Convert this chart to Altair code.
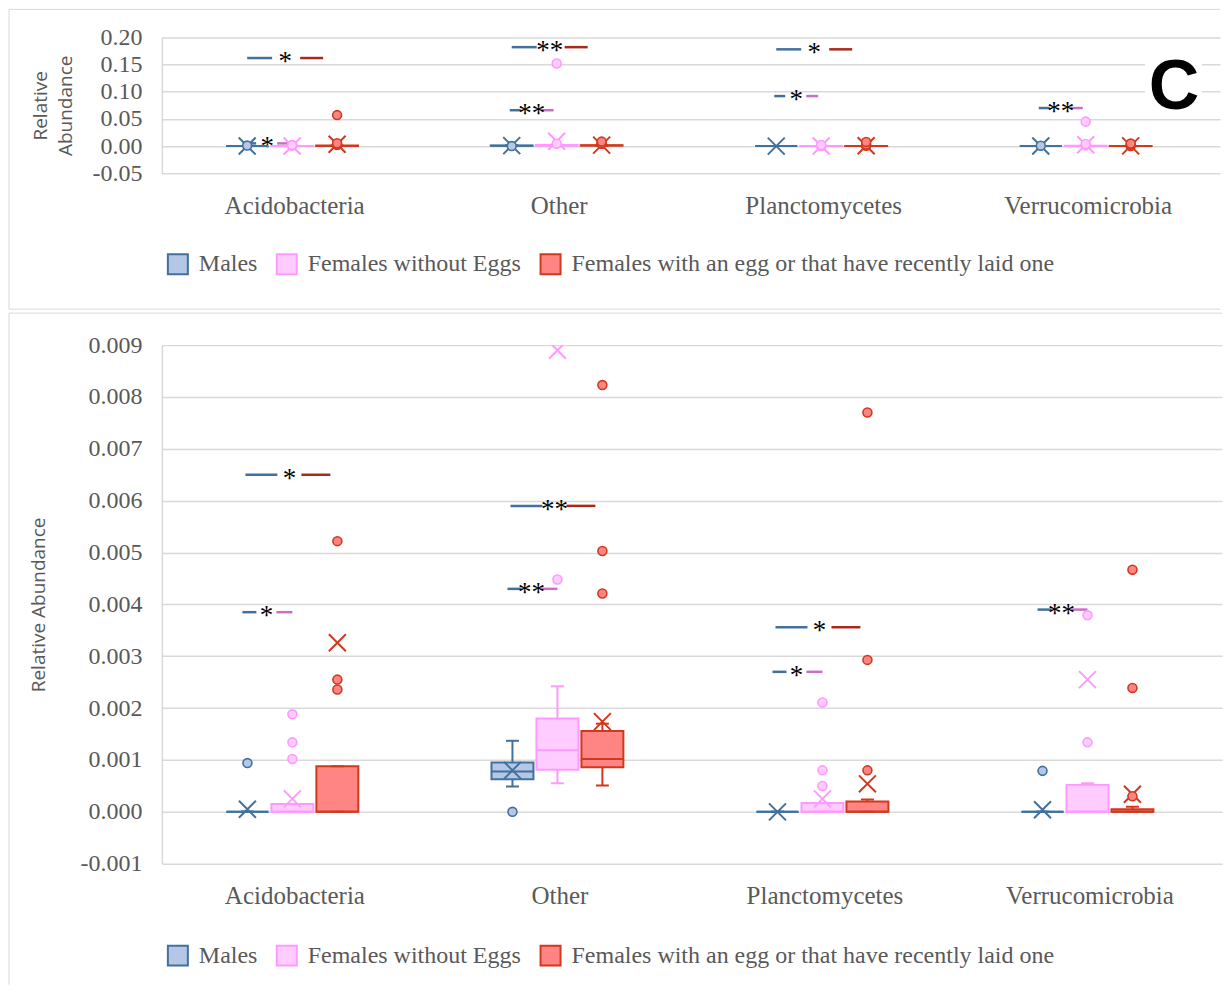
import json
import altair as alt
import pandas as pd

# ---------------------------------------------------------------- data
categories = ["Acidobacteria", "Other", "Planctomycetes", "Verrucomicrobia"]
groups = ["Males", "Females without Eggs",
          "Females with an egg or that have recently laid one"]

# box statistics, one value per category (order of `categories`)
males_q1 = [0.0, 0.00063, 0.0, 0.0]
males_median = [0.0, 0.00078, 0.0, 0.0]
males_q3 = [0.0, 0.00095, 0.0, 0.0]
males_low = [0.0, 0.00049, 0.0, 0.0]
males_high = [0.0, 0.00137, 0.0, 0.0]
males_mean = [0.00005, 0.00080, 0.0, 0.00004]
males_outliers = [[0.00094], [0.0], [], [0.00079]]

noegg_q1 = [0.0, 0.00081, 0.0, 0.0]
noegg_median = [0.0, 0.00119, 0.0, 0.0]
noegg_q3 = [0.00015, 0.00180, 0.00017, 0.00052]
noegg_low = [0.0, 0.00055, 0.0, 0.0]
noegg_high = [0.00015, 0.00242, 0.00017, 0.00055]
noegg_mean = [0.00025, 0.00890, 0.00025, 0.00255]
noegg_outliers = [[0.00102, 0.00134, 0.00188], [0.00448, 0.152],
                  [0.00050, 0.00080, 0.00211], [0.00134, 0.00379, 0.045]]

egg_q1 = [0.0, 0.00086, 0.0, 0.0]
egg_median = [0.0, 0.00102, 0.0, 0.0]
egg_q3 = [0.00088, 0.00156, 0.00020, 0.00005]
egg_low = [0.0, 0.00051, 0.0, 0.0]
egg_high = [0.00088, 0.00170, 0.00024, 0.00010]
egg_mean = [0.00326, 0.00174, 0.00054, 0.00034]
egg_outliers = [[0.00236, 0.00255, 0.00522, 0.057], [0.00421, 0.00503, 0.00823],
                [0.00080, 0.00293, 0.00770], [0.00030, 0.00239, 0.00467]]

# significance marks (ME = males vs egg-laying females, MF = males vs females without eggs)
sig_category = [0, 0, 1, 1, 2, 2, 3]
sig_pair = ["ME", "MF", "ME", "MF", "ME", "MF", "MF"]
sig_label = ["*", "*", "**", "**", "*", "*", "**"]
sig_top_value = [0.162, 0.005, 0.182, 0.066, 0.178, 0.092, 0.070]
sig_bottom_value = [0.0065, 0.00385, 0.0059, 0.0043, 0.00356, 0.0027, 0.0039]

top_ticks = [-0.05, 0.0, 0.05, 0.10, 0.15, 0.20]
bottom_ticks = [-0.001, 0.0, 0.001, 0.002, 0.003, 0.004, 0.005, 0.006, 0.007, 0.008, 0.009]

# ---------------------------------------------------------------- styles
SERIF = "Liberation Serif"
SANS = "Open Sans"
GRAY = "#595959"
GRID = "#D9D9D9"
FILLS = ["#B4C7E7", "#FFCCFF", "#FF8585"]
STROKES = ["#41719C", "#FF99FF", "#D0391D"]
SIG_LEFT = "#41719C"
SIG_ME = "#A52A1A"
SIG_MF = "#C86FC8"
XPATH = "M-1,-1L1,1M-1,1L1,-1"


def build_tables():
    stats = [
        (males_q1, males_median, males_q3, males_low, males_high, males_mean, males_outliers),
        (noegg_q1, noegg_median, noegg_q3, noegg_low, noegg_high, noegg_mean, noegg_outliers),
        (egg_q1, egg_median, egg_q3, egg_low, egg_high, egg_mean, egg_outliers),
    ]
    box_rows, out_rows = [], []
    for gi, (g, st) in enumerate(zip(groups, stats)):
        q1, md, q3, lo, hi, mn, outs = st
        for ci, cat in enumerate(categories):
            box_rows.append({"category": cat, "ci": ci, "group": g, "gi": gi,
                             "q1": q1[ci], "med": md[ci], "q3": q3[ci],
                             "lo": lo[ci], "hi": hi[ci], "mean": mn[ci]})
            for v in outs[ci]:
                out_rows.append({"category": cat, "ci": ci, "group": g, "gi": gi, "value": v})
    return pd.DataFrame(box_rows), pd.DataFrame(out_rows)


box_df, out_df = build_tables()


def sig_table(values):
    return pd.DataFrame({"ci": sig_category, "pair": sig_pair,
                         "label": sig_label, "value": values})


one = pd.DataFrame({"k": [0]})


def panel(width, height, ydomain, yticks, fmt, ytitle, title_pad, sigs, geo,
          legend_xy, frame, extras):
    ppu = width / len(categories)
    xscale = alt.Scale(domain=[0, len(categories)], nice=False, zero=False)
    yscale = alt.Scale(domain=ydomain, nice=False, zero=False)
    xaxis = alt.Axis(title=None, values=[i + 0.5 for i in range(len(categories))],
                     labelExpr=f"{json.dumps(categories)}[floor(datum.value)]",
                     grid=False, domain=False, ticks=False, labelFont=SERIF,
                     labelFontSize=25, labelColor=GRAY, labelPadding=20)
    yaxis = alt.Axis(title=ytitle, values=yticks,
                     labelExpr=f"(datum.value < -1e-9 ? '-' : '') + format(abs(datum.value), '{fmt}')",
                     grid=True, gridColor=GRID, gridWidth=1.5, domain=True,
                     domainColor=GRID, domainWidth=1.5, ticks=False, labelPadding=20,
                     labelFont=SERIF, labelFontSize=24, labelColor=GRAY,
                     titleFont=SANS, titleFontSize=19, titleFontWeight="normal",
                     titleColor=GRAY, titlePadding=title_pad, titleLineHeight=25)

    def X(f):
        return alt.X(f"{f}:Q", scale=xscale, axis=xaxis)

    def Y(f):
        return alt.Y(f"{f}:Q", scale=yscale, axis=yaxis)

    leg = alt.Legend(title=None, orient="none", legendX=legend_xy[0], legendY=legend_xy[1],
                     direction="horizontal", symbolType="square", symbolSize=400,
                     symbolStrokeWidth=2, labelFont=SERIF, labelFontSize=24,
                     labelColor=GRAY, labelOffset=9, columnPadding=15, labelLimit=900)
    fill_scale = alt.Scale(domain=groups, range=FILLS)
    stroke_scale = alt.Scale(domain=groups, range=STROKES)
    fill_leg = alt.Fill("group:N", scale=fill_scale, legend=leg)
    stroke_leg = alt.Stroke("group:N", scale=stroke_scale, legend=leg)
    fill = alt.Fill("group:N", scale=fill_scale, legend=None)
    stroke = alt.Stroke("group:N", scale=stroke_scale, legend=None)

    pos = dict(
        xc=f"datum.ci + 0.5 + ((datum.gi - 1) * 45 - 2) / {ppu}",
        xl=f"datum.xc - 21 / {ppu}",
        xr=f"datum.xc + 21 / {ppu}",
        cl=f"datum.xc - 6.5 / {ppu}",
        cr=f"datum.xc + 6.5 / {ppu}",
    )
    boxes = alt.Chart(box_df).transform_calculate(**pos)
    outs = alt.Chart(out_df).transform_calculate(xc=pos["xc"])

    def pick(i):
        return f"(datum.pair == 'ME' ? {geo['ME'][i]} : {geo['MF'][i]})"

    sig = alt.Chart(sigs).transform_calculate(
        sx=f"datum.ci + 0.5 + {pick(0)} / {ppu}",
        l1=f"datum.ci + 0.5 + {pick(1)} / {ppu}",
        l2=f"datum.ci + 0.5 + {pick(2)} / {ppu}",
        r1=f"datum.ci + 0.5 + {pick(3)} / {ppu}",
        r2=f"datum.ci + 0.5 + {pick(4)} / {ppu}",
    )

    fx0, fx1, fy0, fy1, bottom_line = frame
    layers = [
        alt.Chart(one).mark_rule(color=GRID, strokeWidth=1).encode(
            x=alt.value(fx0), y=alt.value(fy0), y2=alt.value(fy1)),
        alt.Chart(one).mark_rule(color=GRID, strokeWidth=1).encode(
            x=alt.value(fx0), x2=alt.value(fx1), y=alt.value(fy0)),
    ]
    if bottom_line:
        layers.append(alt.Chart(one).mark_rule(color=GRID, strokeWidth=1).encode(
            x=alt.value(fx0), x2=alt.value(fx1), y=alt.value(fy1)))
    layers += extras
    layers += [
        sig.mark_rule(color=SIG_LEFT, strokeWidth=2.5).encode(
            x=X("l1"), x2=alt.X2("l2"), y=Y("value")),
        sig.transform_filter("datum.pair == 'ME'").mark_rule(color=SIG_ME, strokeWidth=2.5).encode(
            x=X("r1"), x2=alt.X2("r2"), y=Y("value")),
        sig.transform_filter("datum.pair == 'MF'").mark_rule(color=SIG_MF, strokeWidth=2.5).encode(
            x=X("r1"), x2=alt.X2("r2"), y=Y("value")),
        sig.mark_text(font=SERIF, fontSize=27, color="black", baseline="alphabetic",
                      align="center", dy=12).encode(x=X("sx"), y=Y("value"), text="label:N"),
        boxes.mark_rect(strokeWidth=2, opacity=1, clip=True).encode(
            x=X("xl"), x2=alt.X2("xr"), y=Y("q1"), y2=alt.Y2("q3"),
            fill=fill_leg, stroke=stroke_leg),
        boxes.mark_rule(strokeWidth=2, clip=True).encode(
            x=X("xc"), y=Y("q3"), y2=alt.Y2("hi"), stroke=stroke),
        boxes.mark_rule(strokeWidth=2, clip=True).encode(
            x=X("xc"), y=Y("lo"), y2=alt.Y2("q1"), stroke=stroke),
        boxes.mark_rule(strokeWidth=2, clip=True).encode(
            x=X("cl"), x2=alt.X2("cr"), y=Y("hi"), stroke=stroke),
        boxes.mark_rule(strokeWidth=2, clip=True).encode(
            x=X("cl"), x2=alt.X2("cr"), y=Y("lo"), stroke=stroke),
        boxes.mark_rule(strokeWidth=2, clip=True).encode(
            x=X("xl"), x2=alt.X2("xr"), y=Y("med"), stroke=stroke),
        boxes.mark_point(shape=XPATH, size=289, filled=False, strokeWidth=2,
                         opacity=1, clip=True).encode(
            x=X("xc"), y=Y("mean"), stroke=stroke),
        outs.mark_point(shape="circle", size=80, filled=True, strokeWidth=1.6,
                        opacity=1, clip=True).encode(
            x=X("xc"), y=Y("value"), fill=fill, stroke=stroke),
    ]
    return alt.layer(*layers).properties(width=width, height=height)


# geometry of significance marks in px relative to category centre:
# (star, left-line start, left-line end, right-line start, right-line end)
GEO_TOP = {"ME": (-9, -47, -22, 6, 29), "MF": (-27, -49, -38, -17, -5)}
GEO_BOTTOM = {"ME": (-5, -49, -17, 7, 36), "MF": (-28, -52, -38, -18, -2)}

TOP_W, BOTTOM_W = 1059, 1061
FRAME_LEFT = -153

c_label = [
    alt.Chart(one).mark_rect(color="white").encode(
        x=alt.value(984), x2=alt.value(1041), y=alt.value(10), y2=alt.value(72)),
    alt.Chart(one).mark_text(text="C", font="Liberation Sans", fontSize=70,
                             fontWeight="bold", color="black", baseline="alphabetic",
                             align="center").encode(x=alt.value(1013), y=alt.value(72)),
]

top = panel(TOP_W, 136, [-0.05, 0.20], top_ticks, ".2f", ["Relative", "Abundance"], 16,
            sig_table(sig_top_value), GEO_TOP, (4, 215),
            (FRAME_LEFT, TOP_W, -28, 272, True), c_label)

bottom = panel(BOTTOM_W, 519, [-0.001, 0.009], bottom_ticks, ".3f", "Relative Abundance", 31,
               sig_table(sig_bottom_value), GEO_BOTTOM, (4, 599),
               (FRAME_LEFT, BOTTOM_W, -32, 640, False), [])

chart = alt.vconcat(top, bottom, spacing=2).resolve_scale(
    fill="independent", stroke="independent"
).resolve_legend(
    fill="independent", stroke="independent"
).properties(padding=0, background="white").configure_view(strokeWidth=0)

chart.save("out.html", embed_options={"renderer": "svg", "actions": False})
